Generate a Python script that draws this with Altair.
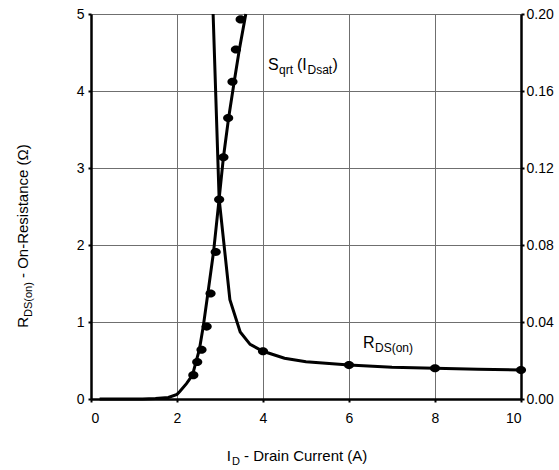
import altair as alt
import pandas as pd

# ---- data ----
# R_DS(on) curve (left axis, ohms)
rds_line_x = [2.84, 2.98, 3.23, 3.47, 3.70, 4.0, 4.5, 5.0, 6.0, 7.0, 8.0, 9.0, 10.0]
rds_line_y = [5.0, 2.60, 1.29, 0.87, 0.71, 0.62, 0.53, 0.485, 0.44, 0.412, 0.40, 0.385, 0.377]
rds_pts_x = [4, 6, 8, 10]
rds_pts_y = [0.62, 0.44, 0.40, 0.377]

# Sqrt(I_Dsat) curve (right axis)
sq_line_x = [0.2, 1.2, 1.5, 1.8, 2.0, 2.07, 2.22, 2.36, 2.44, 2.52, 2.61, 2.72, 2.85,
             2.98, 3.08, 3.20, 3.33, 3.45, 3.60]
sq_line_y = [0.0, 0.0, 0.0002, 0.0008, 0.0024, 0.004, 0.008, 0.0124, 0.0192, 0.0256,
             0.0376, 0.0552, 0.0764, 0.104, 0.1256, 0.146, 0.1648, 0.1816, 0.200]
sq_pts_x = [2.38, 2.47, 2.57, 2.69, 2.78, 2.90, 2.98, 3.08, 3.19, 3.29, 3.37, 3.48]
sq_pts_y = [0.0124, 0.0192, 0.0256, 0.0376, 0.0548, 0.0764, 0.1036, 0.1256, 0.146,
            0.1648, 0.1816, 0.1972]

x_ticks = [0, 2, 4, 6, 8, 10]
left_ticks = [0, 1, 2, 3, 4, 5]
right_ticks = [0.0, 0.04, 0.08, 0.12, 0.16, 0.20]

FONT = "Liberation Sans"
W, H = 430, 385

rds_line_df = pd.DataFrame({"x": rds_line_x, "y": rds_line_y, "o": range(len(rds_line_x))})
rds_pts_df = pd.DataFrame({"x": rds_pts_x, "y": rds_pts_y})
sq_line_df = pd.DataFrame({"x": sq_line_x, "y": sq_line_y, "o": range(len(sq_line_x))})
sq_pts_df = pd.DataFrame({"x": sq_pts_x, "y": sq_pts_y})

xscale = alt.Scale(domain=[0, 10], nice=False, zero=False)
xaxis = alt.Axis(values=x_ticks, title=None, grid=True, gridColor="#6f6f6f", gridWidth=1,
                 domainColor="black", domainWidth=2.5, tickColor="black", tickSize=3, tickWidth=2,
                 labelFont=FONT, labelFontSize=14, labelColor="black", labelPadding=9, format="d")
ly_scale = alt.Scale(domain=[0, 5], nice=False, zero=False)
ly_axis = alt.Axis(orient="left", values=left_ticks, title=None, grid=True, gridColor="#6f6f6f",
                   gridWidth=1, domainColor="black", domainWidth=2.5, tickColor="black", tickSize=3,
                   tickWidth=2, labelFont=FONT, labelFontSize=14, labelColor="black", labelPadding=4,
                   format="d")
ry_scale = alt.Scale(domain=[0, 0.2], nice=False, zero=False)
ry_axis = alt.Axis(orient="right", values=right_ticks, title=None, grid=False,
                   domainColor="black", domainWidth=2.5, tickColor="black", tickSize=3, tickWidth=2,
                   labelFont=FONT, labelFontSize=14, labelColor="black", labelPadding=2,
                   format=".2f")

ELLIPSE = "M-1.2,0 A1.2,0.95 0 1,0 1.2,0 A1.2,0.95 0 1,0 -1.2,0 Z"
DOT = 72

rds_line = alt.Chart(rds_line_df).mark_line(color="black", strokeWidth=3).encode(
    x=alt.X("x:Q", scale=xscale, axis=xaxis),
    y=alt.Y("y:Q", scale=ly_scale, axis=ly_axis),
    order="o:Q",
)
rds_pts = alt.Chart(rds_pts_df).mark_point(shape=ELLIPSE, filled=True, color="black", size=DOT, opacity=1).encode(
    x=alt.X("x:Q", scale=xscale),
    y=alt.Y("y:Q", scale=ly_scale),
)
left_layer = alt.layer(rds_line, rds_pts)

sq_line = alt.Chart(sq_line_df).mark_line(color="black", strokeWidth=3).encode(
    x=alt.X("x:Q", scale=xscale),
    y=alt.Y("y:Q", scale=ry_scale, axis=ry_axis),
    order="o:Q",
)
sq_pts = alt.Chart(sq_pts_df).mark_point(shape=ELLIPSE, filled=True, color="black", size=DOT, opacity=1).encode(
    x=alt.X("x:Q", scale=xscale),
    y=alt.Y("y:Q", scale=ry_scale),
)
right_layer = alt.layer(sq_line, sq_pts)

one = pd.DataFrame({"a": [0]})


def txt(s, x, y, size, align="left", angle=0):
    kw = dict(text=s, font=FONT, fontSize=size, color="black", align=align, baseline="alphabetic")
    if angle:
        kw["angle"] = angle
    return alt.Chart(one).mark_text(**kw).encode(x=alt.value(x), y=alt.value(y))


texts = [
    # left axis title (rotated)
    txt("R", -63, 303, 15, align="right", angle=270),
    txt("DS(on)", -59, 303, 11, align="left", angle=270),
    txt("- On-Resistance (\u03a9)", -63, 264, 15, align="left", angle=270),
    # bottom axis title
    txt("I", 140, 447, 15, align="right"),
    txt("D", 141, 451, 11),
    txt("- Drain Current (A)", 153, 447, 15),
    # Sqrt(IDsat) label
    txt("S", 177, 56, 16),
    txt("qrt", 188, 60, 12),
    txt("(I", 206, 56, 16),
    txt("Dsat", 216.5, 60, 12),
    txt(")", 241.5, 56, 16),
    # RDS(on) label
    txt("R", 272, 334, 16),
    txt("DS(on)", 284, 338, 12),
]

chart = alt.layer(left_layer, right_layer, *texts).resolve_scale(y="independent").properties(
    width=W, height=H,
    autosize=alt.AutoSizeParams(type="none"),
    padding={"left": 91, "top": 14, "right": 38, "bottom": 71},
).configure_view(stroke="black", strokeWidth=2.5).configure(background="white")

chart.save("out.html", embed_options={"renderer": "svg", "actions": False})
